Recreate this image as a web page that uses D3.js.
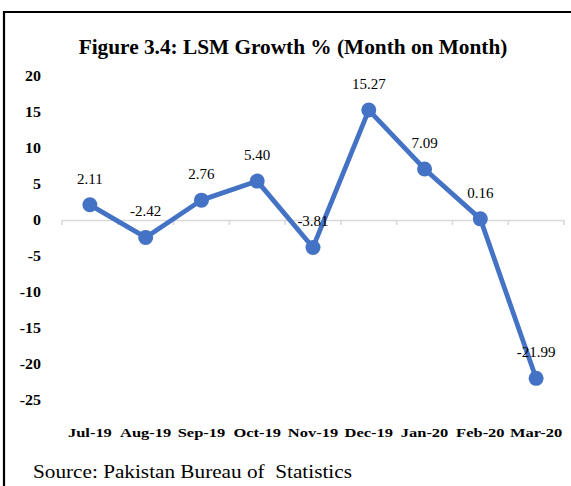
<!DOCTYPE html>
<html>
<head>
<meta charset="utf-8">
<script src="https://cdn.jsdelivr.net/npm/d3@7"></script>
<style>
  html, body { margin: 0; padding: 0; background: #fff; }
  svg { display: block; font-family: "Liberation Serif", "Times New Roman", serif; }
</style>
</head>
<body>
<div id="chart"></div>
<script>
// ─── Data ─────────────────────────────────────────────────────────────────────
const months = ["Jul-19", "Aug-19", "Sep-19", "Oct-19", "Nov-19", "Dec-19", "Jan-20", "Feb-20", "Mar-20"];
const growth = [2.11, -2.42, 2.76, 5.40, -3.81, 15.27, 7.09, 0.16, -21.99];
const yTicks = [20, 15, 10, 5, 0, -5, -10, -15, -20, -25];

const W = 571, H = 486;
const svg = d3.select("#chart").append("svg").attr("width", W).attr("height", H);

// the source picture is a bit wide, so bold labels get a horizontal stretch
const stretched = (sel, sx) => sel.attr("transform", function () {
  const t = d3.select(this);
  return `translate(${t.attr("data-x")},${t.attr("data-y")}) scale(${sx},1)`;
});

// frame (top + left edge of the boxed figure)
svg.append("path").attr("d", `M4,${H} V12 H${W}`)
  .attr("fill", "none").attr("stroke", "#000").attr("stroke-width", 2.2);

svg.append("text").attr("x", 293).attr("y", 54).attr("text-anchor", "middle")
  .attr("font-weight", "bold").attr("font-size", 21.3)
  .text("Figure 3.4: LSM Growth % (Month on Month)");

const x = d3.scaleBand().domain(months).range([62, 564]);
const y = d3.scaleLinear().domain([-25, 20]).range([400, 76]);
const cx = (m) => x(m) + x.bandwidth() / 2;

// y labels (no axis line)
svg.append("g").selectAll("text").data(yTicks).join("text")
  .attr("data-x", 41).attr("data-y", (d) => y(d) + 5).attr("text-anchor", "end")
  .attr("font-weight", "bold").attr("font-size", 14)
  .text((d) => d)
  .call(stretched, 1.14);

// zero line with category ticks
const xAxis = svg.append("g").attr("transform", `translate(0,${y(0)})`)
  .call(d3.axisBottom(x).tickSize(0).tickFormat(""));
xAxis.select(".domain").attr("stroke", "#d9d9d9").attr("stroke-width", 1.6);
xAxis.append("g").selectAll("line").data(d3.range(months.length + 1)).join("line")
  .attr("x1", (i) => 62 + i * x.step()).attr("x2", (i) => 62 + i * x.step())
  .attr("y1", 0).attr("y2", 5).attr("stroke", "#d9d9d9").attr("stroke-width", 1.6);

// category labels at bottom
svg.append("g").selectAll("text").data(months).join("text")
  .attr("data-x", cx).attr("data-y", 436.5).attr("text-anchor", "middle")
  .attr("font-weight", "bold").attr("font-size", 13.5)
  .text((d) => d)
  .call(stretched, 1.22);

const pts = months.map((m, i) => ({ m, v: growth[i] }));
const line = d3.line().x((d) => cx(d.m)).y((d) => y(d.v));

svg.append("path").datum(pts).attr("fill", "none")
  .attr("stroke", "#4472C4").attr("stroke-width", 4.8).attr("stroke-linejoin", "round")
  .attr("d", line);

svg.append("g").selectAll("circle").data(pts).join("circle")
  .attr("cx", (d) => cx(d.m)).attr("cy", (d) => y(d.v))
  .attr("r", 7.5).attr("fill", "#4472C4");

svg.append("g").selectAll("text").data(pts).join("text")
  .attr("x", (d) => cx(d.m)).attr("y", (d) => y(d.v) - 21)
  .attr("text-anchor", "middle").attr("font-size", 15).attr("fill", "#000")
  .text((d) => d.v.toFixed(2));

svg.append("text").attr("data-x", 33).attr("data-y", 478).attr("font-size", 18)
  .text("Source: Pakistan Bureau of\u00a0 Statistics")
  .call(stretched, 1.18);
</script>
</body>
</html>
